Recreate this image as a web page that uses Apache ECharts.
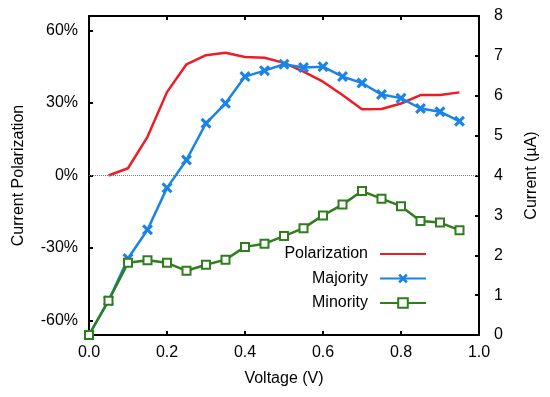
<!DOCTYPE html>
<html>
<head>
<meta charset="utf-8">
<script src="https://cdn.jsdelivr.net/npm/echarts@6/dist/echarts.min.js"></script>
<style>
html,body{margin:0;padding:0;background:#fff;}
#chart{width:550px;height:397px;}
</style>
</head>
<body>
<div id="chart"></div>
<script>
// Data
const voltage = [0.0,0.05,0.1,0.15,0.2,0.25,0.3,0.35,0.4,0.45,0.5,0.55,0.6,0.65,0.7,0.75,0.8,0.85,0.9,0.95];
const polarizationV = [0.05,0.1,0.15,0.2,0.25,0.3,0.35,0.4,0.45,0.5,0.55,0.6,0.65,0.7,0.75,0.8,0.85,0.9,0.95];
const polarization = [0.0,3.0,16.0,34.5,46.0,49.8,50.8,49.0,48.7,46.6,43.0,38.8,33.3,27.4,27.5,29.8,33.3,33.3,34.4];
const majority = [0,0.86,1.92,2.64,3.69,4.39,5.31,5.81,6.48,6.63,6.79,6.71,6.73,6.48,6.32,6.03,5.94,5.68,5.60,5.36];
const minority = [0,0.86,1.81,1.875,1.81,1.61,1.76,1.89,2.21,2.29,2.48,2.68,3.00,3.27,3.61,3.42,3.23,2.86,2.82,2.63];
const leftTicks = [-60,-30,0,30,60];

const FONT = 'Liberation Sans';
const pair = (xs, ys) => xs.map((x, i) => [x, ys[i]]);
const xMark = 'path://M0,2 L2,0 L5,3 L8,0 L10,2 L7,5 L10,8 L8,10 L5,7 L2,10 L0,8 L3,5 Z';

const chart = echarts.init(document.getElementById('chart'));
const axisLine = {show:true, onZero:false, lineStyle:{color:'#000', width:2}};
const tick = {show:true, inside:true, length:4, lineStyle:{color:'#000', width:2}};
chart.setOption({
  animation:false,
  textStyle:{fontFamily:FONT},
  grid:{left:89, right:71, top:16, bottom:62},
  legend:{
    orient:'vertical', align:'right', right:118, top:241,
    itemWidth:46, itemHeight:12, itemGap:8.5,
    textStyle:{fontFamily:FONT, fontSize:16, color:'#000', padding:[0,7,0,0]},
    data:[{name:'Polarization', itemStyle:{opacity:0}},'Majority','Minority']
  },
  xAxis:[{
    type:'value', min:0, max:1, interval:0.2, position:'bottom',
    axisLine, axisTick:tick,
    axisLabel:{fontFamily:FONT, fontSize:16, color:'#000', margin:10, formatter:v=>v.toFixed(1)},
    splitLine:{show:false},
    name:'Voltage (V)', nameLocation:'middle', nameGap:36,
    nameTextStyle:{fontFamily:FONT, fontSize:16, color:'#000'}
  },{
    type:'value', min:0, max:1, interval:0.2, position:'top',
    axisLine, axisTick:tick,
    axisLabel:{show:false}, splitLine:{show:false}
  }],
  yAxis:[{
    type:'value', min:-66, max:66, position:'left',
    axisLine,
    axisTick:Object.assign({customValues:leftTicks}, tick),
    axisLabel:{fontFamily:FONT, fontSize:16, color:'#000', margin:11, customValues:leftTicks, formatter:v=>v+'%'},
    splitLine:{show:false},
    name:'Current Polarization', nameLocation:'middle', nameGap:62, nameRotate:90,
    nameTextStyle:{fontFamily:FONT, fontSize:16, color:'#000'}
  },{
    type:'value', min:0, max:8, interval:1, position:'right',
    axisLine, axisTick:tick,
    axisLabel:{fontFamily:FONT, fontSize:16, color:'#000', margin:15},
    splitLine:{show:false},
    name:'Current (\u00b5A)', nameLocation:'middle', nameGap:45, nameRotate:90,
    nameTextStyle:{fontFamily:FONT, fontSize:16, color:'#000'}
  }],
  series:[{
    name:'Polarization', type:'line', xAxisIndex:0, yAxisIndex:0,
    data:pair(polarizationV, polarization),
    symbol:'none', color:'#ee1c25', lineStyle:{width:2.5, color:'#ee1c25'},
    markLine:{silent:true, symbol:'none', label:{show:false},
      lineStyle:{type:'dotted', color:'#777', width:1}, data:[{yAxis:0}]}
  },{
    name:'Majority', type:'line', xAxisIndex:0, yAxisIndex:1, clip:false,
    data:pair(voltage, majority),
    symbol:xMark, symbolSize:11, color:'#1a84e6',
    itemStyle:{color:'#1a84e6'}, lineStyle:{width:2.5, color:'#1a84e6'}
  },{
    name:'Minority', type:'line', xAxisIndex:0, yAxisIndex:1, clip:false,
    data:pair(voltage, minority),
    symbol:'rect', symbolSize:8, color:'#2f7d1c',
    itemStyle:{color:'#ffffff', borderColor:'#2f7d1c', borderWidth:2},
    lineStyle:{width:2.5, color:'#2f7d1c'}
  }]
});
</script>
</body>
</html>
